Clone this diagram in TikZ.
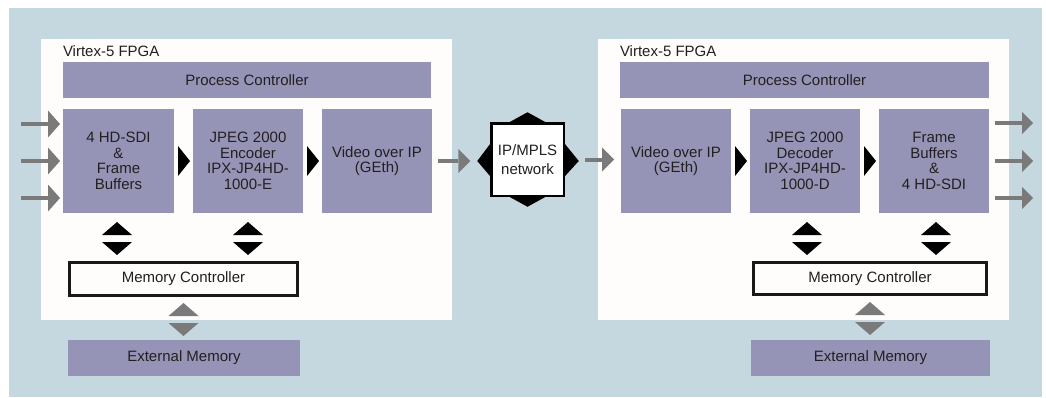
\documentclass[tikz,border=0pt]{standalone}
\usepackage{fontspec}
\setmainfont{Liberation Sans}
\usetikzlibrary{arrows.meta,calc}
\definecolor{bgblue}{HTML}{C6D8DF}
\definecolor{blk}{HTML}{9594B6}
\definecolor{arrgray}{HTML}{7A7A7A}
\definecolor{txt}{HTML}{231F20}
\definecolor{paper}{HTML}{FEFDFC}
\begin{document}
\begin{tikzpicture}[x=1pt,y=-1pt,
  every node/.style={font=\fontsize{15}{15.5}\selectfont, text=txt, inner sep=0pt, outer sep=0pt},
  fpga/.style={fill=paper, minimum width=411pt, minimum height=281pt},
  ctrl/.style={fill=blk, minimum width=368pt, minimum height=36pt},
  blockbox/.style={fill=blk, minimum width=110pt, minimum height=104pt, align=center},
  memctrl/.style={fill=paper, draw=black!90, line width=3pt, minimum height=33pt},
  extmem/.style={fill=blk, minimum height=36pt},
  grayarrow/.style={draw=arrgray, line width=4pt, -{Triangle[length=12pt,width=27pt,line width=0pt]}},
  smallgray/.style={draw=arrgray, line width=4pt, -{Triangle[length=11pt,width=22pt,line width=0pt]}},
  blackarrow/.style={draw=black, line width=0pt, -{Triangle[length=12pt,width=30pt,line width=0pt]}},
  pics/bidi/.style={code={
    \fill[#1] (-15,-3.5) -- (0,-16.5) -- (15,-3.5) -- cycle;
    \fill[#1] (-15,3.5) -- (0,16.5) -- (15,3.5) -- cycle;}}
]
\useasboundingbox (0,0) rectangle (1046,397);
\fill[bgblue] (9,8) rectangle (1042,397);

% FPGA boxes
\node[fpga] (fpga1) at (246.5,179.5) {};
\node[fpga] (fpga2) at (803.5,179.5) {};
\node[anchor=base west] (lab1) at (63,56) {Virtex-5 FPGA};
\node[anchor=base west] (lab2) at (620,56) {Virtex-5 FPGA};

% process controllers
\node[ctrl] (pc1) at (247,80) {Process Controller};
\node[ctrl, minimum width=369pt] (pc2) at (804.5,80) {Process Controller};

% blocks
\node[blockbox, minimum width=111pt] (b1) at (118.5,161) {4 HD-SDI\\\&\\Frame\\Buffers};
\node[blockbox] (b2) at (248,161) {JPEG 2000\\Encoder\\IPX-JP4HD-\\1000-E};
\node[blockbox] (b3) at (377,161) {Video over IP\\(GEth)};
\node[blockbox] (b4) at (676,161) {Video over IP\\(GEth)};
\node[blockbox] (b5) at (805,161) {JPEG 2000\\Decoder\\IPX-JP4HD-\\1000-D};
\node[blockbox] (b6) at (934,161) {Frame\\Buffers\\\&\\4 HD-SDI};

% memory controllers and external memory
\node[memctrl, minimum width=228pt] (mc1) at (183.5,279) {Memory Controller};
\node[memctrl, minimum width=233pt, minimum height=32pt] (mc2) at (870,278.5) {Memory Controller};
\node[extmem, minimum width=232pt] (em1) at (184,358) {External Memory};
\node[extmem, minimum width=239pt] (em2) at (870.5,358) {External Memory};

% network
\node[fill=white, draw=black, line width=2.5pt, minimum width=72.5pt, minimum height=72.5pt,
      align=center, font=\fontsize{15}{18.5}\selectfont] (net) at (527.5,159.5) {IP/MPLS\\network};
\fill ($(net.north)+(-20,0)$) -- ($(net.north)+(0,-11)$) -- ($(net.north)+(20,0)$) -- cycle;
\fill ($(net.south)+(-20,0)$) -- ($(net.south)+(0,11)$) -- ($(net.south)+(20,0)$) -- cycle;
\fill ($(net.west)+(0,-17)$) -- ($(net.west)+(-14,1.5)$) -- ($(net.west)+(0,18)$) -- cycle;
\fill ($(net.east)+(0,-17)$) -- ($(net.east)+(15,1.5)$) -- ($(net.east)+(0,18)$) -- cycle;

% block-to-block black arrows
\foreach \a/\b in {b1/b2,b2/b3,b4/b5,b5/b6}
  \draw[blackarrow, shorten <=4pt, shorten >=3pt] (\a.east) -- (\b.west);

% input arrows
\coordinate (in1) at (21,124);
\coordinate (in2) at (21,161);
\coordinate (in3) at (21,198);
\foreach \c in {in1,in2,in3}
  \draw[grayarrow, shorten >=3pt] (\c) -- (\c -| b1.west);

% output arrows
\coordinate (out1) at (1033,123);
\coordinate (out2) at (1033,161);
\coordinate (out3) at (1033,198);
\foreach \c in {out1,out2,out3}
  \draw[smallgray, shorten <=6pt] (b6.east |- \c) -- (\c);

% network arrows
\draw[grayarrow, -{Triangle[length=12pt,width=24pt,line width=0pt]}, shorten <=6pt, shorten >=21pt] (b3.east) -- (b3.east -| net.west);
\draw[grayarrow, -{Triangle[length=12pt,width=24pt,line width=0pt]}, shorten <=21pt, shorten >=7pt] (net.east) -- (net.east -| b4.west);

% bidirectional arrows
\pic at ($(b1.south)+(-1.5,25.5)$) {bidi=black};
\pic at ($(b2.south)+(0,25.5)$) {bidi=black};
\pic at ($(b5.south)+(2,25.5)$) {bidi=black};
\pic at ($(b6.south)+(2,25.5)$) {bidi=black};
\pic at ($(mc1.south)+(0,24)$) {bidi=arrgray};
\pic at ($(mc2.south)+(0,24)$) {bidi=arrgray};
\end{tikzpicture}
\end{document}
